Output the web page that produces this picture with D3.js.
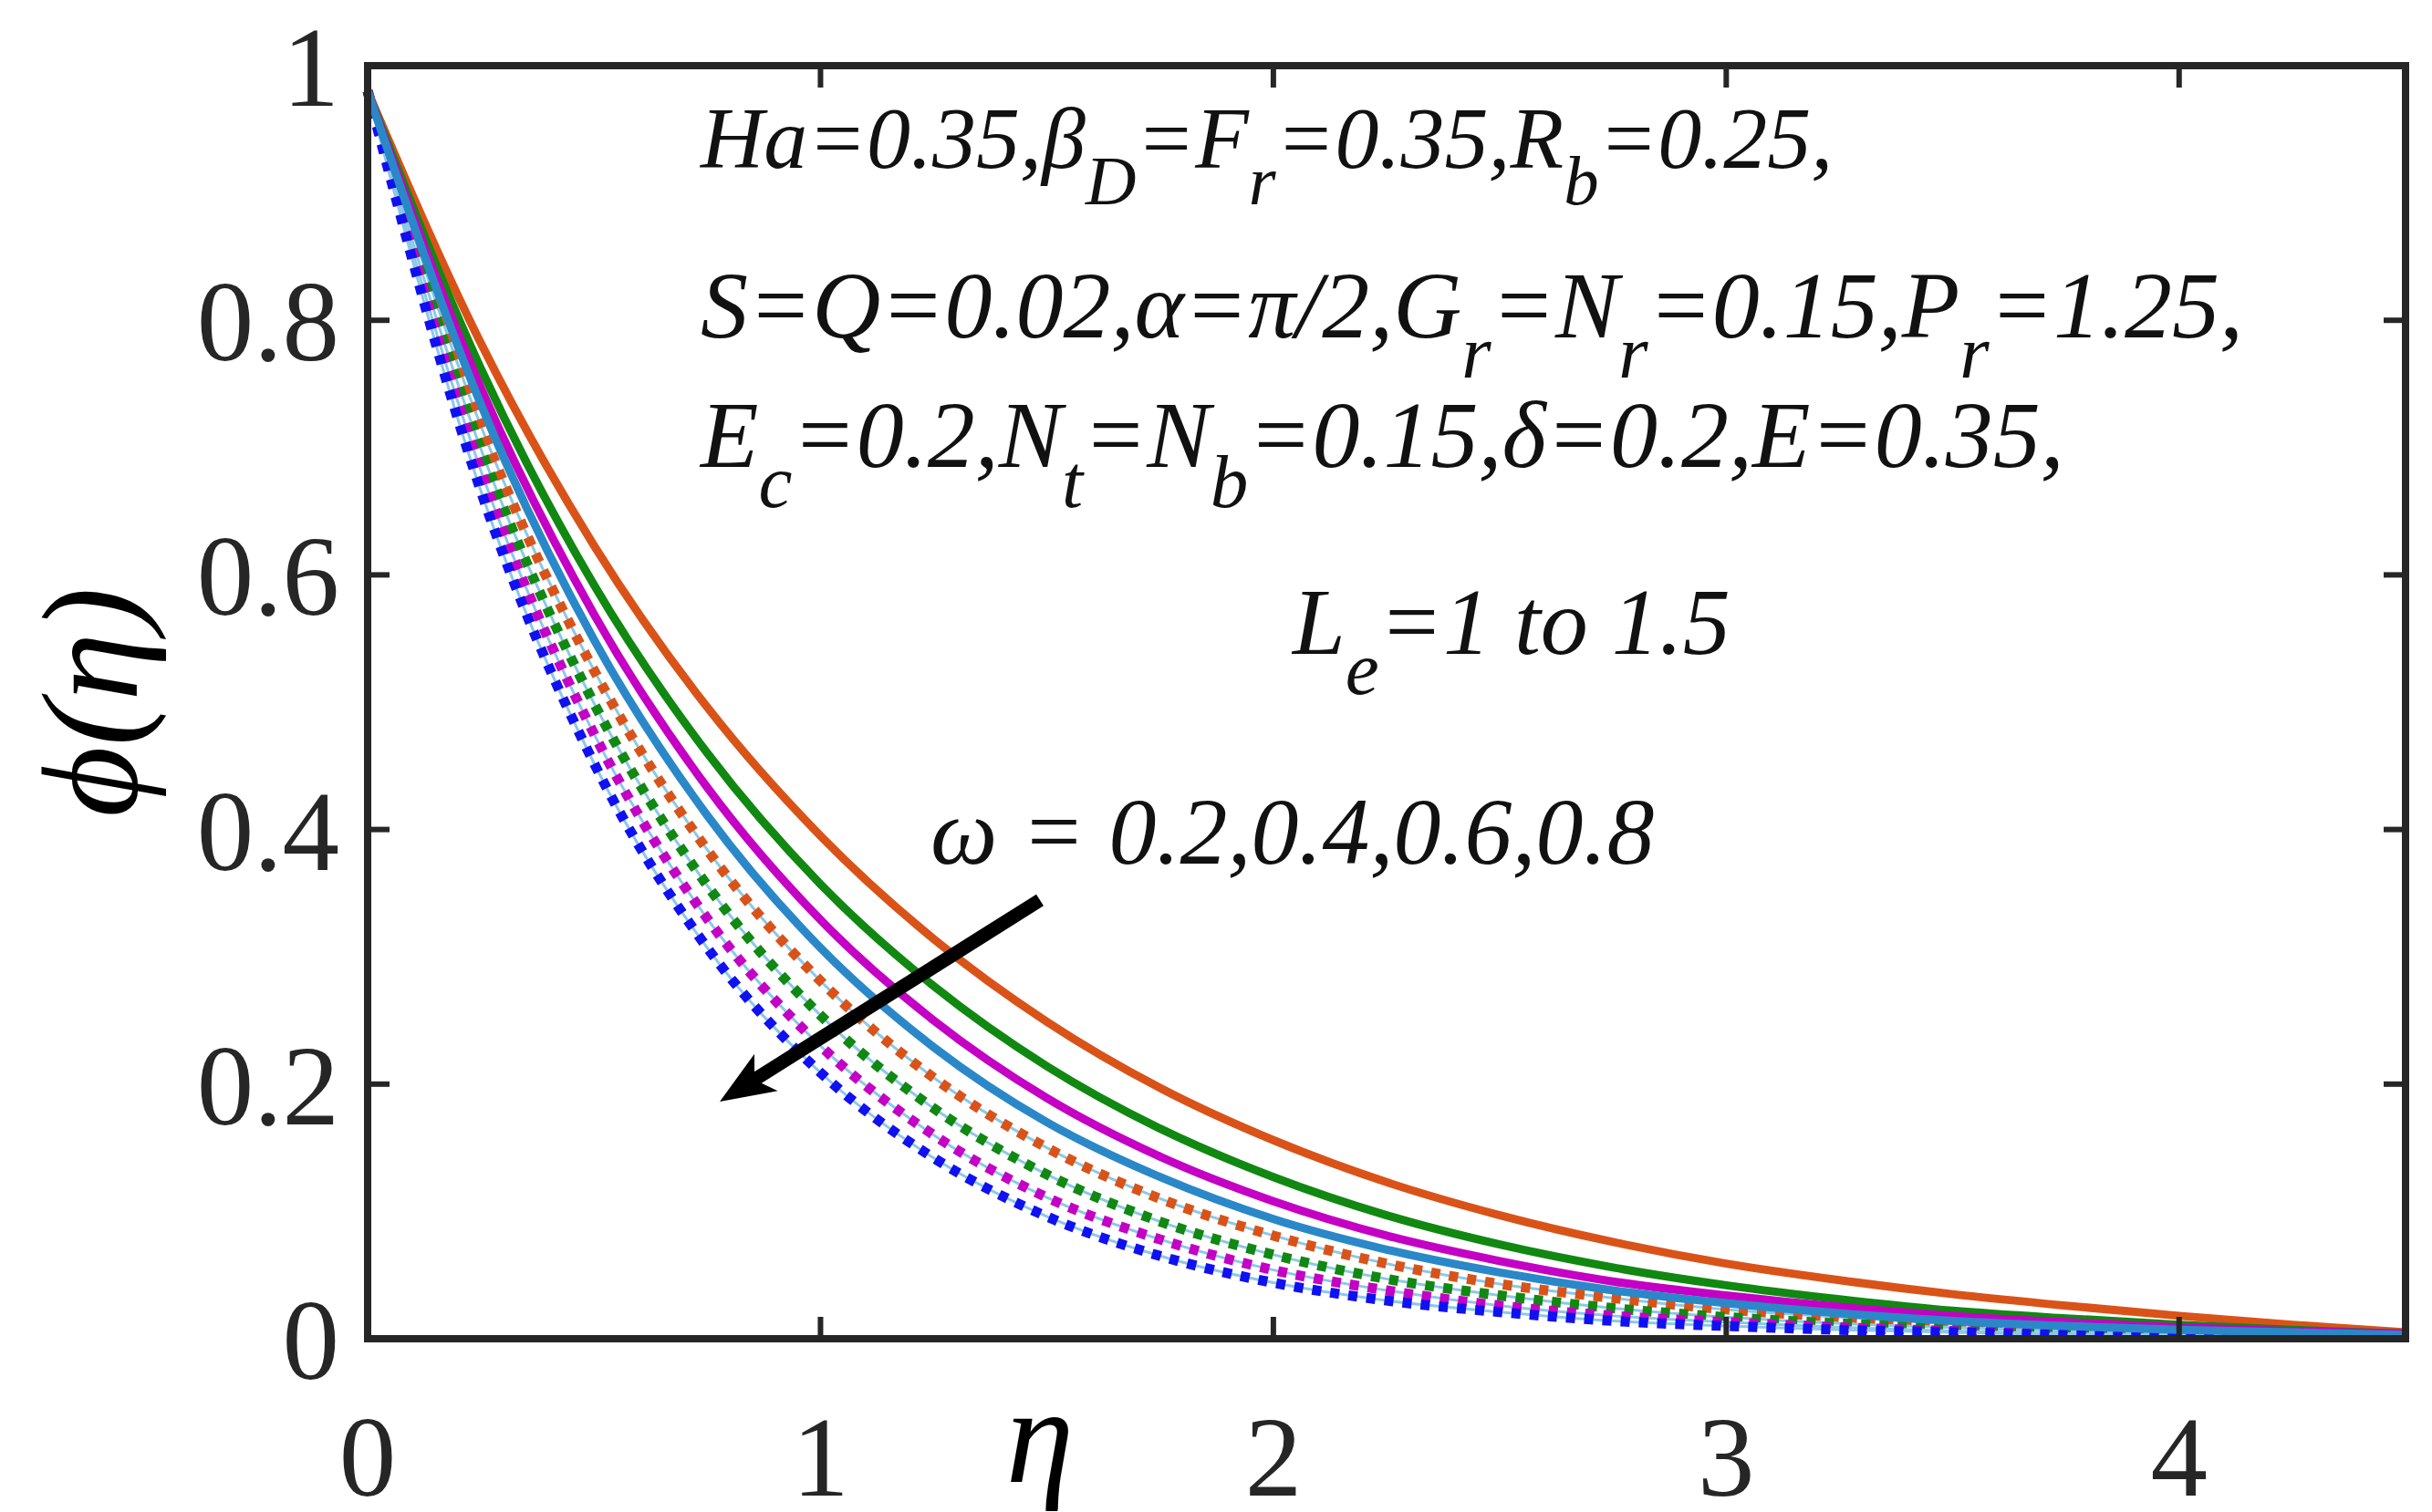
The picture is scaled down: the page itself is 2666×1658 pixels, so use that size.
<!DOCTYPE html>
<html><head><meta charset="utf-8">
<script src="https://cdn.jsdelivr.net/npm/d3@7"></script>
<style>body{margin:0;background:#fff}</style></head>
<body><svg id="c" width="2666" height="1658"></svg>
<script>
const eta = [0,0.25,0.5,0.75,1,1.25,1.5,1.75,2,2.25,2.5,2.75,3,3.25,3.5,3.75,4,4.25,4.5];
const solidOrange = [0.98,0.782,0.623,0.496,0.395,0.314,0.249,0.197,0.156,0.123,0.097,0.076,0.059,0.046,0.035,0.026,0.018,0.011,0.005];
const solidGreen  = [0.98,0.762,0.592,0.460,0.357,0.277,0.214,0.165,0.127,0.097,0.074,0.056,0.042,0.031,0.022,0.016,0.011,0.007,0.004];
const solidMagenta= [0.98,0.747,0.569,0.433,0.329,0.250,0.189,0.143,0.108,0.081,0.061,0.045,0.034,0.025,0.018,0.013,0.009,0.006,0.004];
const solidBlue   = [0.98,0.734,0.549,0.411,0.307,0.229,0.170,0.127,0.094,0.070,0.052,0.038,0.028,0.020,0.014,0.010,0.007,0.005,0.003];
const dotOrange   = [0.98,0.717,0.525,0.384,0.281,0.205,0.150,0.110,0.081,0.059,0.043,0.032,0.023,0.017,0.012,0.009,0.007,0.005,0.004];
const dotGreen    = [0.98,0.699,0.499,0.356,0.254,0.181,0.129,0.092,0.066,0.047,0.034,0.024,0.017,0.012,0.009,0.006,0.004,0.003,0.002];
const dotMagenta  = [0.98,0.682,0.475,0.330,0.230,0.160,0.111,0.078,0.054,0.038,0.026,0.018,0.013,0.009,0.006,0.004,0.003,0.002,0.002];
const dotBlue     = [0.98,0.666,0.452,0.307,0.209,0.142,0.096,0.065,0.044,0.030,0.021,0.014,0.010,0.007,0.005,0.003,0.002,0.001,0.001];
const xTicks = [0,1,2,3,4];
const yTicks = [0,0.2,0.4,0.6,0.8,1];
const yTickLabels = ["0","0.2","0.4","0.6","0.8","1"];

const svg = d3.select("#c");
const L=403,R=2637,T=72,B=1468;
const x = d3.scaleLinear().domain([0,4.5]).range([L,R]);
const y = d3.scaleLinear().domain([0,1]).range([B,T]);
const font = "Liberation Serif, Times New Roman, serif";

const line = d3.line().x((d,i)=>x(eta[i])).y(d=>y(d)).curve(d3.curveMonotoneX);
const solids = [[solidOrange,"#D95319"],[solidGreen,"#118811"],[solidMagenta,"#C400C4"],[solidBlue,"#2A88C8"]];
const dots = [[dotOrange,"#D95319"],[dotGreen,"#118811"],[dotMagenta,"#C400C4"],[dotBlue,"#1010F0"]];
const g = svg.append("g");
dots.forEach(([v,c])=>{
  g.append("path").attr("d",line(v)).attr("fill","none").attr("stroke","#8cc8e8").attr("stroke-width",3);
  g.append("path").attr("d",line(v)).attr("fill","none").attr("stroke",c).attr("stroke-width",11)
   .attr("stroke-dasharray","10 10");
});
solids.forEach(([v,c])=>{
  g.append("path").attr("d",line(v)).attr("fill","none").attr("stroke",c).attr("stroke-width",9);
});

svg.append("rect").attr("x",L).attr("y",T).attr("width",R-L).attr("height",B-T)
  .attr("fill","none").attr("stroke","#262626").attr("stroke-width",8);
const tl=24;
xTicks.forEach(t=>{
  svg.append("line").attr("x1",x(t)).attr("x2",x(t)).attr("y1",B).attr("y2",B-tl).attr("stroke","#262626").attr("stroke-width",6);
  svg.append("line").attr("x1",x(t)).attr("x2",x(t)).attr("y1",T).attr("y2",T+tl).attr("stroke","#262626").attr("stroke-width",6);
  svg.append("text").attr("x",x(t)).attr("y",1640).attr("text-anchor","middle").attr("font-family",font).attr("font-size",125).attr("fill","#262626").text(t);
});
yTicks.forEach((t,i)=>{
  svg.append("line").attr("x1",L).attr("x2",L+tl).attr("y1",y(t)).attr("y2",y(t)).attr("stroke","#262626").attr("stroke-width",6);
  svg.append("line").attr("x1",R).attr("x2",R-tl).attr("y1",y(t)).attr("y2",y(t)).attr("stroke","#262626").attr("stroke-width",6);
  svg.append("text").attr("x",372).attr("y",y(t)+44).attr("text-anchor","end").attr("font-family",font).attr("font-size",125).attr("fill","#262626").text(yTickLabels[i]);
});
svg.append("text").attr("x",1140).attr("y",1625).attr("text-anchor","middle").attr("font-family",font).attr("font-style","italic").attr("font-size",150).text("η");
svg.append("text").attr("transform","translate(150,770) rotate(-90)").attr("text-anchor","middle").attr("font-family",font).attr("font-style","italic").attr("font-size",150).text("ϕ(η)");

function rich(xp,yp,size,parts){
  const t=svg.append("text").attr("x",xp).attr("y",yp).attr("font-family",font).attr("font-style","italic").attr("font-size",size).attr("fill","#111");
  let sub=false; const sd=size*0.42, ss=size*0.8;
  parts.forEach(p=>{
    const isSub = p.startsWith("_");
    const s = isSub?p.slice(1):p;
    const ts=t.append("tspan").text(s);
    if(isSub && !sub){ts.attr("dy",sd).attr("font-size",ss);sub=true;}
    else if(isSub){ts.attr("font-size",ss);}
    else if(sub){ts.attr("dy",-sd);sub=false;}
  });
}
rich(768,184,96,["Ha=0.35,β","_D","=F","_r","=0.35,R","_b","=0.25,"]);
rich(768,370,104,["S=Q=0.02,α=π/2,G","_r","=N","_r","=0.15,P","_r","=1.25,"]);
rich(768,512,104,["E","_c","=0.2,N","_t","=N","_b","=0.15,δ=0.2,E=0.35,"]);
rich(1417,717,104,["L","_e","=1 to 1.5"]);
rich(1020,947,104,["ω = 0.2,0.4,0.6,0.8"]);

const ax1=1140,ay1=987,ax2=789,ay2=1208;
svg.append("line").attr("x1",ax1).attr("y1",ay1).attr("x2",ax2+22).attr("y2",ay2-14).attr("stroke","#000").attr("stroke-width",15);
const ang=Math.atan2(ay2-ay1,ax2-ax1);
const hl=60,hw=24;
const bx=ax2-hl*Math.cos(ang), by=ay2-hl*Math.sin(ang);
svg.append("path").attr("d",`M${ax2},${ay2}L${bx+hw*Math.sin(ang)},${by-hw*Math.cos(ang)}L${bx+hl*0.25*Math.cos(ang)},${by+hl*0.25*Math.sin(ang)}L${bx-hw*Math.sin(ang)},${by+hw*Math.cos(ang)}Z`).attr("fill","#000");
</script></body></html>
